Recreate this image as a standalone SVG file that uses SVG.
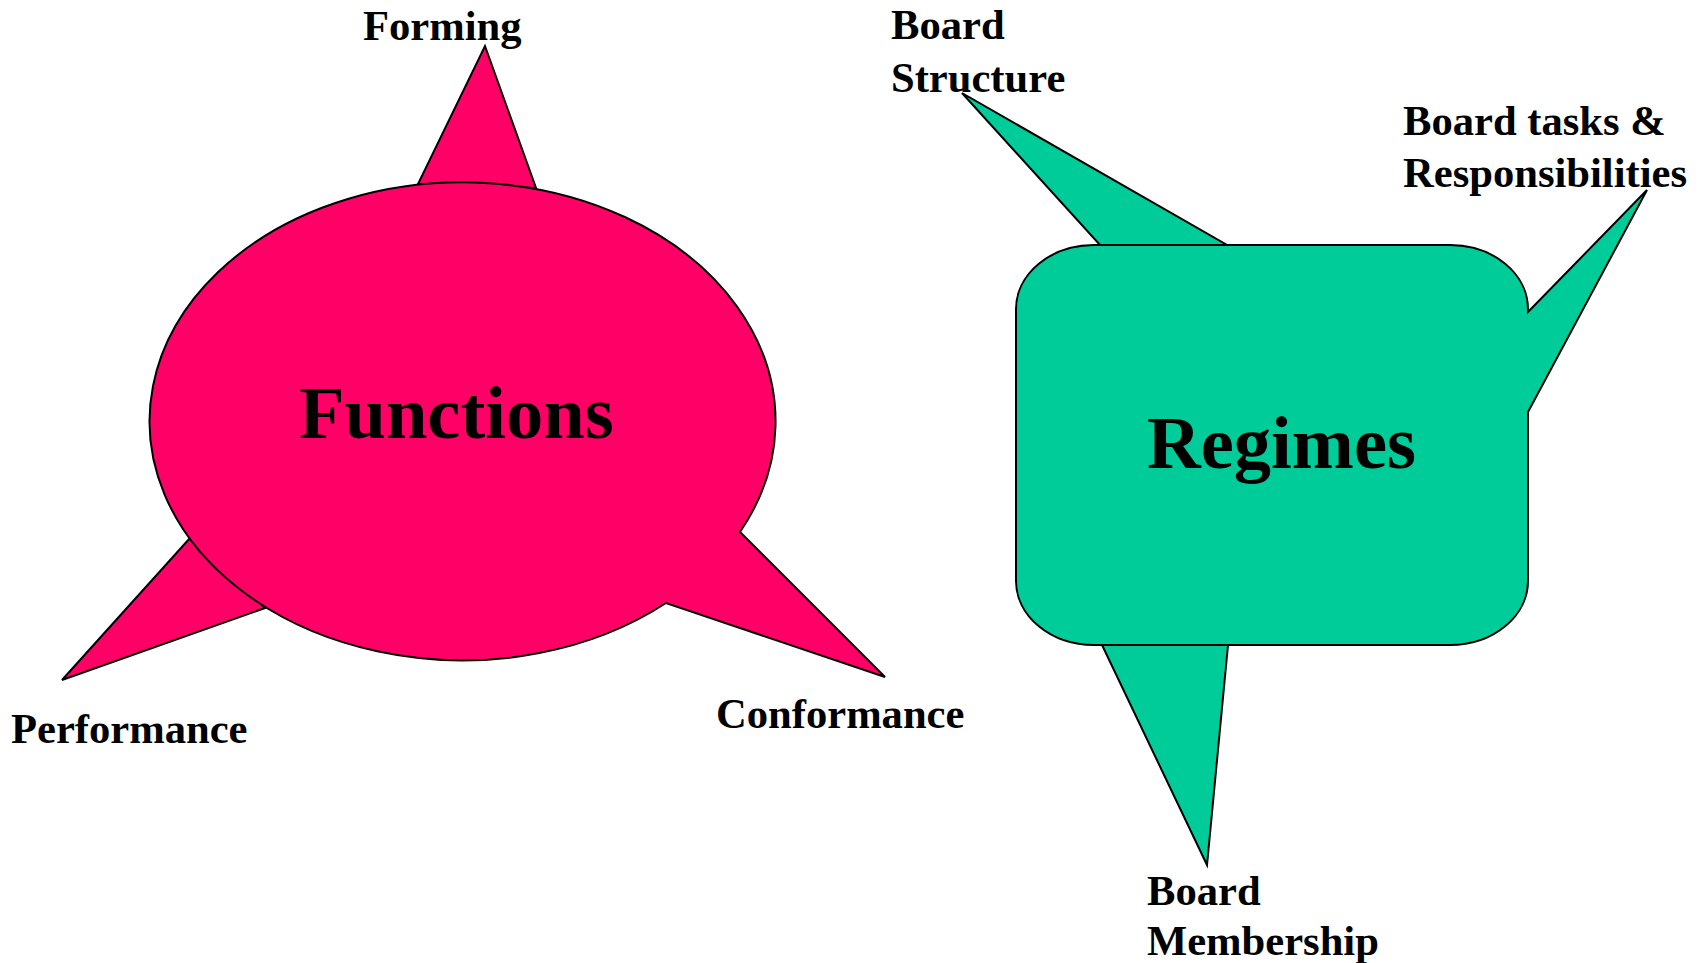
<svg xmlns="http://www.w3.org/2000/svg" width="1706" height="963" viewBox="0 0 1706 963">
<style>
.pink{fill:#FF0066;stroke:#000;stroke-width:2;stroke-linejoin:miter}
.green{fill:#00CC99;stroke:#000;stroke-width:2;stroke-linejoin:miter}
.lbl{font-family:"Liberation Serif","Times New Roman",serif;font-weight:bold;font-size:42.6px;fill:#000}
.big{font-family:"Liberation Serif","Times New Roman",serif;font-weight:bold;font-size:74.5px;fill:#000}
</style>
<rect width="1706" height="963" fill="#fff"/>
<g id="connectors">
<polygon class="pink" points="485,46 536,188 418,184"/>
<polygon class="pink" points="190,538 265,608 62,680"/>
<polygon class="green" points="962,93 1227,245 1100,245"/>
<polygon class="green" points="1102,645 1228,645 1207,865"/>
</g>
<g id="functions">
<path class="pink" d="M 740 532 L 885 677 L 666 603 A 313 239 0 1 1 740 532 Z"/>
<text class="big" x="299" y="438">Functions</text>
</g>
<g id="regimes">
<path class="green" d="M 1094 245 H 1450 A 78 64 0 0 1 1528 309 V 312 L 1647 190 L 1528 412 V 581 A 78 64 0 0 1 1450 645 H 1094 A 78 64 0 0 1 1016 581 V 309 A 78 64 0 0 1 1094 245 Z"/>
<text class="big" x="1147" y="468">Regimes</text>
</g>
<g id="forming"><text class="lbl" x="363" y="40">Forming</text></g>
<g id="performance"><text class="lbl" x="11" y="743">Performance</text></g>
<g id="conformance"><text class="lbl" x="716" y="728">Conformance</text></g>
<g id="board-structure"><text class="lbl" x="891" y="39">Board</text><text class="lbl" x="891" y="92">Structure</text></g>
<g id="board-tasks"><text class="lbl" x="1403" y="135">Board tasks &amp;</text><text class="lbl" x="1403" y="187">Responsibilities</text></g>
<g id="board-membership"><text class="lbl" x="1147" y="905">Board</text><text class="lbl" x="1147" y="955">Membership</text></g>
</svg>
